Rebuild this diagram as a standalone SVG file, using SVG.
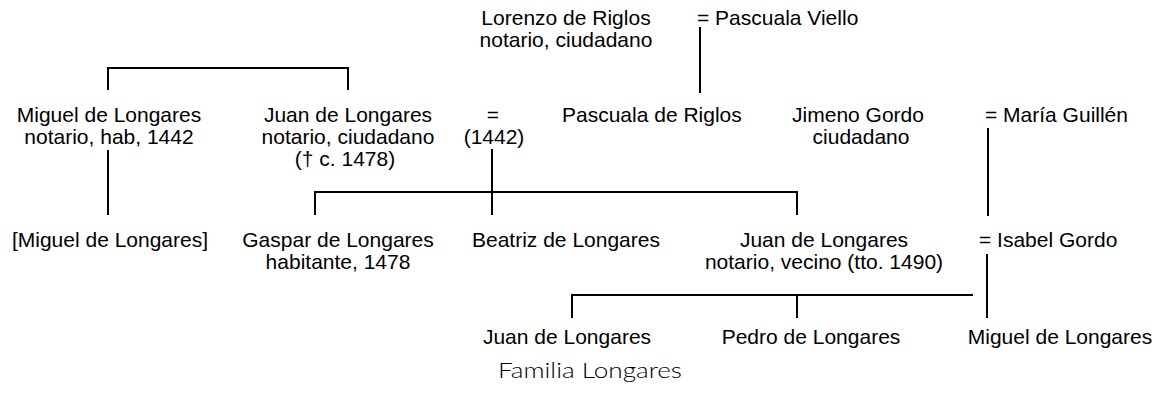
<svg xmlns="http://www.w3.org/2000/svg" width="1163" height="405" viewBox="0 0 1163 405">
<style>
text{font-family:"Liberation Sans",Arial,sans-serif;font-size:21px;fill:#000}
.m{text-anchor:middle}
.c line,.c polyline{stroke:#000;stroke-width:2;fill:none}
.cap{font-family:Lato,"Open Sans",sans-serif;font-size:22px;font-weight:300}
</style>
<rect width="1163" height="405" fill="#fff"/>
<g class="c" id="connectors">
<polyline points="108,90 108,68 348,68 348,90"/>
<line x1="700" y1="27" x2="700" y2="93"/>
<line x1="108" y1="150" x2="108" y2="215"/>
<line x1="492" y1="149" x2="492" y2="215"/>
<polyline points="315,215 315,192 797,192 797,215"/>
<line x1="988" y1="128" x2="988" y2="216"/>
<line x1="987" y1="254" x2="987" y2="318"/>
<polyline points="572,318 572,295 973,295"/>
<line x1="797" y1="295" x2="797" y2="318"/>
</g>
<g id="lorenzo"><text class="m" x="566" y="25">Lorenzo de Riglos</text><text class="m" x="566" y="47">notario, ciudadano</text></g>
<g id="pascuala-viello"><text x="697" y="25">= Pascuala Viello</text></g>
<g id="miguel1"><text class="m" x="109" y="122">Miguel de Longares</text><text class="m" x="109" y="144">notario, hab, 1442</text></g>
<g id="juan1"><text class="m" x="348" y="122">Juan de Longares</text><text class="m" x="348" y="144">notario, ciudadano</text><text class="m" x="345" y="166">(† c. 1478)</text></g>
<g id="marriage1"><text class="m" x="493" y="122">=</text><text class="m" x="494" y="144">(1442)</text></g>
<g id="pascuala-riglos"><text x="562" y="122">Pascuala de Riglos</text></g>
<g id="jimeno"><text class="m" x="858" y="122">Jimeno Gordo</text><text class="m" x="861" y="144">ciudadano</text></g>
<g id="maria"><text x="985" y="122">= María Guillén</text></g>
<g id="miguel2"><text class="m" x="110" y="247">[Miguel de Longares]</text></g>
<g id="gaspar"><text class="m" x="338" y="247">Gaspar de Longares</text><text class="m" x="338" y="269">habitante, 1478</text></g>
<g id="beatriz"><text x="472" y="247">Beatriz de Longares</text></g>
<g id="juan2"><text class="m" x="824" y="247">Juan de Longares</text><text class="m" x="824" y="269">notario, vecino (tto. 1490)</text></g>
<g id="isabel"><text x="979" y="247">= Isabel Gordo</text></g>
<g id="juan3"><text class="m" x="567" y="344">Juan de Longares</text></g>
<g id="pedro"><text class="m" x="811" y="344">Pedro de Longares</text></g>
<g id="miguel3"><text class="m" x="1060" y="344">Miguel de Longares</text></g>
<text class="cap" x="498" y="378" textLength="184" lengthAdjust="spacingAndGlyphs">Familia Longares</text>
</svg>
